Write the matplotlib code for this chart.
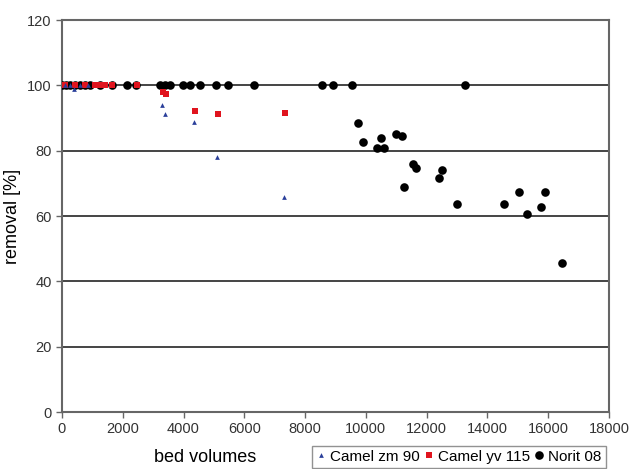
import matplotlib
matplotlib.use("Agg")
from matplotlib import pyplot as plt

plt.rcParams['font.family'] = ['Liberation Sans', 'DejaVu Sans']

# Camel zm 90 (blue triangles)
zm_x = [100, 250, 395, 600, 850, 3300, 3390, 4345, 5110, 7295]
zm_y = [100, 100, 98.8, 100, 100, 94.0, 91.4, 88.9, 78.2, 65.7]

# Camel yv 115 (red squares)
yv_x = [100, 430, 760, 1090, 1250, 1415, 1645, 2470, 3320, 3420, 4375, 5145, 7340]
yv_y = [100, 100, 100, 100, 100, 100, 100, 100, 97.9, 97.3, 92.2, 91.2, 91.7]

# Norit 08 (black circles)
no_x = [0, 130, 260, 430, 590, 760, 920, 1250, 1645, 2140, 2435, 3225, 3390,
        3550, 3980, 4210, 4540, 5070, 5460, 6320, 8555, 8920, 9540, 13260,
        9730, 9915, 10490, 10380, 10595, 10980, 11200, 11265, 11540, 11650,
        12420, 12515, 12990, 14545, 15025, 15310, 15750, 15895, 16465]
no_y = [100, 100, 100, 100, 100, 100, 100, 100, 100, 100, 100, 100, 100,
        100, 100, 100, 100, 100, 100, 100, 100, 100, 100, 100,
        88.4, 82.7, 83.8, 81.0, 81.0, 85.1, 84.5, 68.8, 75.9, 74.8,
        71.8, 74.1, 63.7, 63.7, 67.4, 60.6, 62.8, 67.4, 45.5]

fig = plt.figure(figsize=(6.32, 4.69), dpi=100)
ax = fig.add_axes([0.098, 0.1215, 0.8656, 0.8355])

for y in [20, 40, 60, 80, 100]:
    ax.axhline(y, color='#444444', lw=1.4, zorder=1)

ax.plot(no_x, no_y, 'o', color='black', ms=6.2, mew=0, ls='none', label='Norit 08', zorder=3)
ax.plot(yv_x, yv_y, 's', color='#e0141e', ms=5, mew=0, ls='none', label='Camel yv 115', zorder=4)
ax.plot(zm_x, zm_y, '^', color='#2a3f9a', ms=3.4, mew=0, ls='none', label='Camel zm 90', zorder=5)

ax.set_xlim(0, 18000)
ax.set_ylim(0, 120)
ax.set_xticks(range(0, 18001, 2000))
ax.set_yticks(range(0, 121, 20))
for s in ax.spines.values():
    s.set_color('#666666')
    s.set_linewidth(1.5)
ax.tick_params(colors='#666666', labelcolor='#333333', labelsize=10.5, length=4, width=1)
ax.set_ylabel('removal [%]', fontsize=13, labelpad=4)
fig.text(205 / 632, 1 - 457 / 469, 'bed volumes', fontsize=13, ha='center', va='center')

h, l = ax.get_legend_handles_labels()
order = [2, 1, 0]
leg = fig.legend([h[i] for i in order], [l[i] for i in order], loc='upper left',
                 bbox_to_anchor=(0.494, 0.049), ncol=3, fontsize=11, frameon=True,
                 fancybox=False, edgecolor='#777777', handlelength=0.6,
                 handletextpad=0.3, columnspacing=0.3, borderpad=0.25,
                 borderaxespad=0)

fig.savefig('out.png', dpi=100)
